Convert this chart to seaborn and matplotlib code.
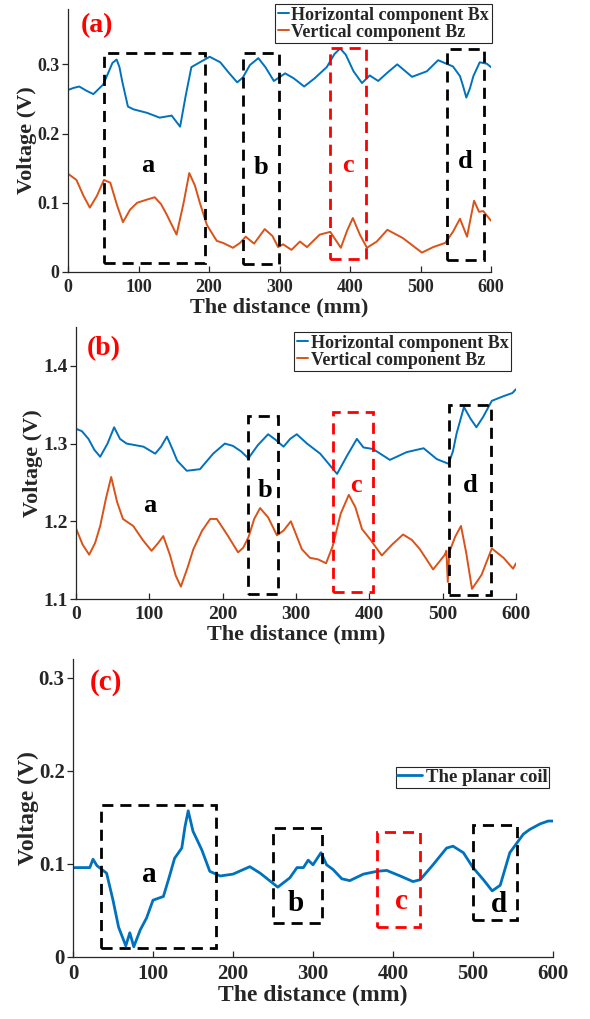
import numpy as np
import pandas as pd
import matplotlib
matplotlib.use("Agg")
import matplotlib.pyplot as plt
from matplotlib.patches import Rectangle
import seaborn as sns

# ---------------- data ----------------
# Panel (a)
a_bx_x = [0, 8, 16, 26, 36, 50, 58, 63, 69, 73, 77, 85, 93, 112, 130, 147, 159, 167, 175, 187,
          201, 216, 228, 240, 248, 258, 270, 280, 292, 308, 320, 335, 350, 367, 378, 386, 394, 405, 417, 428,
          440, 453, 467, 488, 509, 525, 546, 556, 560, 565, 570, 575, 584, 594, 600]
a_bx_y = [.263, .266, .268, .262, .257, .271, .290, .302, .307, .296, .275, .239, .235, .230, .223, .226, .210, .255, .296, .303,
          .311, .303, .288, .274, .281, .299, .309, .296, .276, .287, .280, .268, .280, .296, .315, .323, .314, .290, .273, .284,
          .276, .288, .300, .282, .290, .306, .297, .283, .270, .252, .265, .283, .303, .301, .296]
a_bz_x = [0, 12, 22, 31, 41, 51, 60, 70, 78, 88, 98, 110, 123, 132, 140, 154, 164, 172, 180, 187,
          197, 211, 220, 234, 244, 252, 264, 279, 290, 298, 305, 317, 329, 339, 357, 372, 387, 396, 404, 414,
          424, 438, 453, 475, 502, 518, 535, 546, 556, 566, 576, 583, 589, 600]
a_bz_y = [.142, .133, .110, .093, .110, .133, .129, .095, .072, .090, .100, .104, .108, .098, .083, .054, .100, .143, .125, .100,
          .068, .045, .042, .035, .042, .051, .041, .062, .052, .036, .040, .032, .044, .036, .054, .058, .035, .060, .078, .054,
          .035, .044, .061, .049, .028, .036, .042, .058, .077, .051, .103, .087, .088, .074]

# Panel (b)
b_bx_x = [0, 8, 17, 25, 33, 43, 52, 60, 69, 92, 108, 116, 124, 131, 138, 151, 169, 187, 203, 214,
          225, 235, 248, 262, 272, 283, 292, 301, 315, 333, 356, 370, 383, 392, 405, 428, 451, 474, 492, 508,
          514, 519, 529, 538, 546, 555, 567, 583, 595, 600]
b_bx_y = [1.319, 1.316, 1.306, 1.292, 1.283, 1.300, 1.321, 1.306, 1.300, 1.296, 1.287, 1.296, 1.309, 1.294, 1.278, 1.265, 1.267, 1.287, 1.300, 1.297,
          1.290, 1.281, 1.298, 1.312, 1.305, 1.296, 1.306, 1.312, 1.300, 1.287, 1.261, 1.285, 1.306, 1.295, 1.293, 1.279, 1.289, 1.294, 1.280, 1.274,
          1.290, 1.313, 1.347, 1.332, 1.321, 1.334, 1.355, 1.361, 1.365, 1.370]
b_bz_x = [0, 9, 18, 26, 33, 41, 48, 56, 64, 78, 91, 103, 112, 119, 128, 136, 143, 152, 160, 172,
          183, 192, 206, 221, 228, 235, 243, 251, 262, 274, 283, 293, 308, 319, 330, 341, 350, 361, 372, 381,
          390, 401, 417, 431, 446, 458, 469, 487, 503, 505, 507, 509, 517, 525, 532, 540, 553, 567, 583, 596,
          600]
b_bz_y = [1.191, 1.170, 1.157, 1.172, 1.194, 1.230, 1.257, 1.225, 1.203, 1.194, 1.176, 1.162, 1.172, 1.181, 1.157, 1.130, 1.116, 1.140, 1.164, 1.188,
          1.203, 1.203, 1.183, 1.160, 1.166, 1.179, 1.203, 1.217, 1.205, 1.182, 1.188, 1.200, 1.164, 1.153, 1.151, 1.146, 1.168, 1.210, 1.234, 1.218,
          1.190, 1.177, 1.156, 1.170, 1.183, 1.176, 1.164, 1.138, 1.157, 1.162, 1.122, 1.160, 1.180, 1.194, 1.160, 1.113, 1.131, 1.165, 1.153, 1.139,
          1.146]

# Panel (c)
c_x = [0, 21, 25, 30, 42, 50, 57, 66, 71, 76, 84, 92, 100, 113, 120, 127, 136, 140, 144, 150,
       155, 161, 171, 184, 200, 221, 234, 256, 271, 280, 288, 294, 300, 310, 317, 325, 336, 346, 363, 380,
       392, 409, 425, 434, 450, 467, 475, 488, 500, 513, 524, 534, 546, 563, 571, 584, 594, 600]
c_y = [.096, .096, .105, .098, .090, .061, .032, .012, .026, .011, .029, .042, .061, .065, .085, .106, .117, .140, .157, .135,
       .126, .115, .092, .087, .089, .097, .090, .075, .085, .096, .096, .104, .099, .112, .099, .094, .084, .082, .089, .092,
       .093, .087, .081, .083, .099, .117, .119, .112, .096, .083, .071, .077, .112, .132, .137, .143, .146, .146]

# region boxes (x0, x1, y0, y1, label, label_x, label_y, color)
a_boxes = [(51, 194, 0.013, 0.317, 'a', 113, 0.144, 'black'),
           (248, 299, 0.012, 0.317, 'b', 274, 0.141, 'black'),
           (372, 423, 0.019, 0.323, 'c', 397, 0.144, 'red'),
           (538, 590, 0.017, 0.322, 'd', 563, 0.150, 'black')]
b_boxes = [(235, 276, 1.106, 1.336, 'b', 258, 1.231, 'black'),
           (351, 405, 1.109, 1.340, 'c', 382, 1.238, 'red'),
           (509, 566, 1.105, 1.349, 'd', 537, 1.238, 'black')]
b_free_labels = [('a', 100, 1.212, 'black')]
c_boxes = [(35, 179, 0.0097, 0.163, 'a', 95, 0.081, 'black'),
           (250, 311, 0.037, 0.139, 'b', 279, 0.049, 'black'),
           (380, 434, 0.032, 0.134, 'c', 410, 0.052, 'red'),
           (500, 555, 0.040, 0.142, 'd', 532, 0.048, 'black')]

x_ticks = [0, 100, 200, 300, 400, 500, 600]
x_tick_labels = ['0', '100', '200', '300', '400', '500', '600']
a_yticks = [0, 0.1, 0.2, 0.3]
a_ytick_labels = ['0', '0.1', '0.2', '0.3']
b_yticks = [1.1, 1.2, 1.3, 1.4]
b_ytick_labels = ['1.1', '1.2', '1.3', '1.4']
c_yticks = [0, 0.1, 0.2, 0.3]
c_ytick_labels = ['0', '0.1', '0.2', '0.3']

legend_bx = 'Horizontal component Bx'
legend_bz = 'Vertical component Bz'
legend_c = 'The planar coil'
xlabel = 'The distance (mm)'
ylabel = 'Voltage (V)'

BLUE = '#0072BD'
ORANGE = '#D95319'
DARK = '#262626'

# ---------------- style ----------------
sns.set_theme(style="ticks")
plt.rcParams['font.family'] = ['Liberation Serif', 'DejaVu Serif']
plt.rcParams['font.weight'] = 'bold'
plt.rcParams['axes.labelweight'] = 'bold'

fig = plt.figure(figsize=(5.9, 10.19), dpi=100)
W, H = 590, 1019


def add_ax(left, right, top, bottom):
    return fig.add_axes([left / W, 1 - bottom / H, (right - left) / W, (bottom - top) / H])


ax_a = add_ax(68, 491, 9, 272)
ax_b = add_ax(76, 516, 327, 599)
ax_c = add_ax(73, 553, 659, 957)


def style_axis(ax, yticks, ylabels, ylim, tick_fs, label_fs):
    ax.set_xlim(0, 600)
    ax.set_ylim(*ylim)
    ax.set_xticks(x_ticks)
    ax.set_xticklabels(x_tick_labels)
    ax.set_yticks(yticks)
    ax.set_yticklabels(ylabels)
    for s in ['top', 'right']:
        ax.spines[s].set_visible(False)
    for s in ['left', 'bottom']:
        ax.spines[s].set_color(DARK)
        ax.spines[s].set_linewidth(0.9)
    ax.tick_params(axis='x', direction='in', length=4, width=0.9, color=DARK,
                   labelsize=tick_fs, labelcolor=DARK, pad=5)
    ax.tick_params(axis='y', direction='out', length=4, width=0.9, color=DARK,
                   labelsize=tick_fs, labelcolor=DARK, pad=2)
    for t in ax.get_xticklabels() + ax.get_yticklabels():
        t.set_fontweight('bold')
    ax.set_xlabel(xlabel, fontsize=label_fs, fontweight='bold', color=DARK, labelpad=1)
    ax.set_ylabel(ylabel, fontsize=label_fs, fontweight='bold', color=DARK, labelpad=0)
    ax.grid(False)


def draw_boxes(ax, boxes, fs):
    for (x0, x1, y0, y1, lab, lx, ly, col) in boxes:
        ax.add_patch(Rectangle((x0, y0), x1 - x0, y1 - y0, fill=False, edgecolor=col,
                               linewidth=2.0, linestyle=(0, (4, 2.5)), zorder=5))
        ax.text(lx, ly, lab, color=col, fontsize=fs, fontweight='bold',
                ha='center', va='baseline', zorder=6)


def style_legend(leg):
    leg.get_frame().set_linewidth(0.8)
    for t in leg.get_texts():
        t.set_fontweight('bold')


# ---- panel (a)
df_a = pd.DataFrame({'x': a_bx_x, 'y': a_bx_y})
df_a2 = pd.DataFrame({'x': a_bz_x, 'y': a_bz_y})
sns.lineplot(data=df_a, x='x', y='y', ax=ax_a, color=BLUE, linewidth=1.4, label=legend_bx, estimator=None)
sns.lineplot(data=df_a2, x='x', y='y', ax=ax_a, color=ORANGE, linewidth=1.4, label=legend_bz, estimator=None)
style_axis(ax_a, a_yticks, a_ytick_labels, (0, 0.38), 13, 16)
draw_boxes(ax_a, a_boxes, 19)
ax_a.text(41, 0.356, '(a)', color='red', fontsize=20, fontweight='bold', ha='center', va='center')
style_legend(ax_a.legend(loc='upper right', bbox_to_anchor=(1.002, 1.019), borderaxespad=0, fontsize=13,
                         handlelength=0.6, handletextpad=0.15, borderpad=0.15, labelspacing=0.0,
                         frameon=True, fancybox=False, edgecolor=DARK, framealpha=1))

# ---- panel (b)
df_b = pd.DataFrame({'x': b_bx_x, 'y': b_bx_y})
df_b2 = pd.DataFrame({'x': b_bz_x, 'y': b_bz_y})
sns.lineplot(data=df_b, x='x', y='y', ax=ax_b, color=BLUE, linewidth=1.4, label=legend_bx, estimator=None)
sns.lineplot(data=df_b2, x='x', y='y', ax=ax_b, color=ORANGE, linewidth=1.4, label=legend_bz, estimator=None)
style_axis(ax_b, b_yticks, b_ytick_labels, (1.1, 1.45), 14, 16)
draw_boxes(ax_b, b_boxes, 19)
for (lab, lx, ly, col) in b_free_labels:
    ax_b.text(lx, ly, lab, color=col, fontsize=19, fontweight='bold', ha='center', va='baseline')
ax_b.text(38, 1.422, '(b)', color='red', fontsize=20, fontweight='bold', ha='center', va='center')
style_legend(ax_b.legend(loc='upper right', bbox_to_anchor=(0.989, 0.982), borderaxespad=0, fontsize=13,
                         handlelength=0.6, handletextpad=0.15, borderpad=0.15, labelspacing=0.0,
                         frameon=True, fancybox=False, edgecolor=DARK, framealpha=1))

# ---- panel (c)
df_c = pd.DataFrame({'x': c_x, 'y': c_y})
sns.lineplot(data=df_c, x='x', y='y', ax=ax_c, color=BLUE, linewidth=2.0, label=legend_c, estimator=None)
style_axis(ax_c, c_yticks, c_ytick_labels, (0, 0.32), 15, 17)
draw_boxes(ax_c, c_boxes, 21)
ax_c.text(41, 0.295, '(c)', color='red', fontsize=21, fontweight='bold', ha='center', va='center')
style_legend(ax_c.legend(loc='upper right', bbox_to_anchor=(0.992, 0.638), borderaxespad=0, fontsize=13.5,
                         handlelength=1.3, handletextpad=0.2, borderpad=0.1, labelspacing=0.0,
                         frameon=True, fancybox=False, edgecolor=DARK, framealpha=1))

fig.savefig('out.png', dpi=100, facecolor='white')
